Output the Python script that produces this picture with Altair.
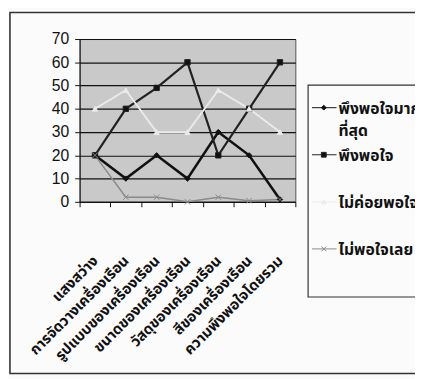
import altair as alt
import pandas as pd

categories = ["แสงสว่าง", "การจัดวางเครื่องเรือน", "รูปแบบของเครื่องเรือน",
              "ขนาดของเครื่องเรือน", "วัสดุของเครื่องเรือน", "สีของเครื่องเรือน",
              "ความพึงพอใจโดยรวม"]
series = ["พึงพอใจมากที่สุด", "พึงพอใจ", "ไม่ค่อยพอใจ", "ไม่พอใจเลย"]
legend_labels = ["พึงพอใจมาก\nที่สุด", "พึงพอใจ", "ไม่ค่อยพอใจ", "ไม่พอใจเลย"]
very_satisfied = [20, 10, 20, 10, 30, 20, 1]
satisfied = [20, 40, 49, 60, 20, 40, 60]
less_satisfied = [40, 48, 30, 30, 48, 40, 30]
not_satisfied = [20, 2, 2, 0, 2, 0.5, 1]

values = [very_satisfied, satisfied, less_satisfied, not_satisfied]
rows = []
for s, vals in zip(series, values):
    for c, v in zip(categories, vals):
        rows.append({"cat": c, "series": s, "value": v})
df = pd.DataFrame(rows)
leg_df = pd.DataFrame({"series": series, "label": legend_labels})

stroke_colors = ["#111111", "#222222", "#ebebeb", "#8a8a8a"]
fill_colors = ["#111111", "#111111", "#ebebeb", "transparent"]
widths = [2.6, 1.5, 1.3, 1.0]
shapes = ["diamond", "square", "triangle-up", "M-1,-1L1,1M-1,1L1,-1"]
THAI = "Noto Sans Thai, Noto Sans, sans-serif"

x_enc = alt.X("cat:N", sort=categories, bandPosition=0.5,
              scale=alt.Scale(type="band", paddingInner=0, paddingOuter=0),
              axis=alt.Axis(title=None, tickBand="extent", labelAngle=-45,
                            labelAlign="right", labelBaseline="middle",
                            labelFont=THAI, labelFontSize=15, labelFontWeight="bold",
                            labelPadding=52, labelColor="#111", domainColor="#111",
                            tickColor="#111", tickSize=5, grid=False, labelLimit=250))
y_enc = alt.Y("value:Q", scale=alt.Scale(domain=[0, 70], nice=False),
              axis=alt.Axis(title=None, values=list(range(0, 71, 10)), grid=True,
                            gridColor="#111", gridWidth=1.2, tickSize=5,
                            tickColor="#111", domainColor="#111",
                            labelFont="Liberation Sans", labelFontSize=16,
                            labelPadding=6, labelColor="#111"))

stroke_scale = alt.Scale(domain=series, range=stroke_colors)

lines = alt.Chart(df).mark_line().encode(
    x=x_enc, y=y_enc,
    stroke=alt.Stroke("series:N", scale=stroke_scale, legend=None),
    strokeWidth=alt.StrokeWidth("series:N", scale=alt.Scale(domain=series, range=widths), legend=None),
)
points = alt.Chart(df).mark_point(size=30, strokeWidth=1, opacity=1).encode(
    x=x_enc, y=y_enc,
    stroke=alt.Stroke("series:N", scale=stroke_scale, legend=None),
    fill=alt.Fill("series:N", scale=alt.Scale(domain=series, range=fill_colors), legend=None),
    shape=alt.Shape("series:N", scale=alt.Scale(domain=series, range=shapes), legend=None),
)
main = alt.layer(lines, points)

leg_y = alt.Y("series:N", scale=alt.Scale(type="point", domain=series, range=[70, 214], padding=0), axis=None)
leg_line = alt.Chart(leg_df).mark_rule().encode(
    x=alt.value(237), x2=alt.value(262), y=leg_y,
    stroke=alt.Stroke("series:N", scale=stroke_scale, legend=None),
    strokeWidth=alt.value(1),
)
leg_pts = alt.Chart(leg_df).mark_point(size=24, strokeWidth=1, opacity=1).encode(
    x=alt.value(249), y=leg_y,
    stroke=alt.Stroke("series:N", scale=stroke_scale, legend=None),
    fill=alt.Fill("series:N", scale=alt.Scale(domain=series, range=fill_colors), legend=None),
    shape=alt.Shape("series:N", scale=alt.Scale(domain=series, range=shapes), legend=None),
)
leg_text = alt.Chart(leg_df).mark_text(align="left", baseline="alphabetic", dy=6,
                                       font=THAI, fontSize=16, fontWeight="bold",
                                       color="#111", lineBreak="\n", lineHeight=23).encode(
    x=alt.value(264), y=leg_y, text="label:N")
one = alt.Data(values=[{"a": 1}])
leg_box = alt.Chart(one).mark_rect(fillOpacity=0, stroke="#333", strokeWidth=1.2).encode(
    x=alt.value(233), x2=alt.value(400), y=alt.value(47), y2=alt.value(263))
frame = alt.Chart(one).mark_rect(fillOpacity=0, stroke="#333", strokeWidth=1.6).encode(
    x=alt.value(-71), x2=alt.value(400), y=alt.value(-27), y2=alt.value(341))

legend_layer = alt.layer(frame, leg_box, leg_line, leg_pts, leg_text)

chart = alt.layer(main, legend_layer).resolve_scale(y="independent").properties(
    width=220, height=166,
    autosize=alt.AutoSizeParams(type="none"),
    padding={"left": 73, "top": 28, "right": 122, "bottom": 177},
    background="#fbfbfb",
).configure_view(fill="#c9c9c9", stroke="#555", strokeWidth=1)

chart.save("out.html", embed_options={"renderer": "svg", "actions": False})
